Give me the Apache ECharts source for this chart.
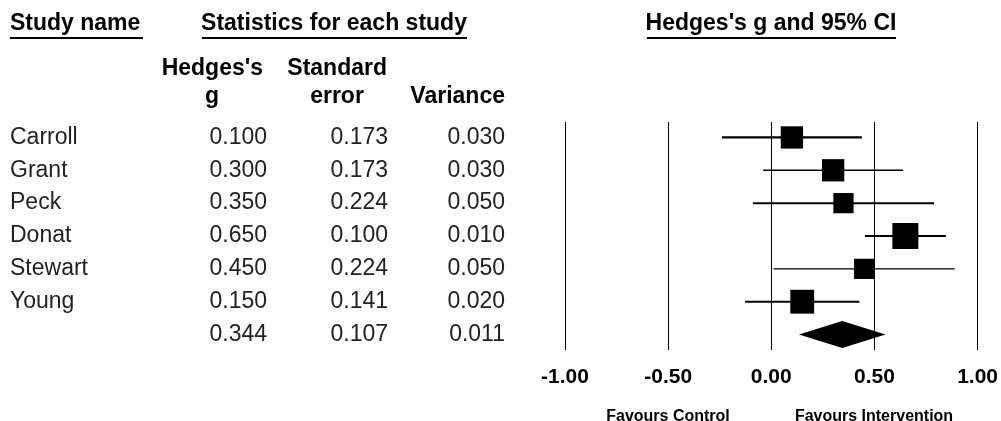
<!DOCTYPE html>
<html>
<head>
<meta charset="utf-8">
<script src="https://cdn.jsdelivr.net/npm/echarts@6/dist/echarts.min.js"></script>
<style>
html,body{margin:0;padding:0;background:#fff;}
#main{width:1001px;height:421px;}
</style>
</head>
<body>
<div id="main"></div>
<script>
// ---- data ----
const studies   = ['Carroll', 'Grant', 'Peck', 'Donat', 'Stewart', 'Young'];
const hedgesG   = [0.100, 0.300, 0.350, 0.650, 0.450, 0.150];
const stdErr    = [0.173, 0.173, 0.224, 0.100, 0.224, 0.141];
const variances = [0.030, 0.030, 0.050, 0.010, 0.050, 0.020];
const lowerCI   = [-0.239, -0.039, -0.089, 0.454, 0.011, -0.127];
const upperCI   = [0.439, 0.639, 0.789, 0.846, 0.889, 0.427];
const summaryStats = [0.344, 0.107, 0.011];   // g, SE, variance
const summaryCI    = [0.134, 0.554];
const xTicks = [-1.00, -0.50, 0.00, 0.50, 1.00];

// ---- styles / layout ----
const FONT = 'Liberation Sans';
const ciLineWidth = [2.3, 1.4, 2, 2, 1.4, 2];
const TAU2 = 0.04;
const colRight = [267, 388, 505];
const nameLeft = 10;
const Y_MIN = -0.47, Y_MAX = 6.47;

const forestData = studies.map((s, i) => [lowerCI[i], upperCI[i], hedgesG[i], i, variances[i], ciLineWidth[i]]);
const summaryRow = studies.length;
const tableData = studies.map((s, i) => [0, i]).concat([[0, summaryRow]]);

function txt(x, y, text, align, opts) {
  opts = opts || {};
  return {
    type: 'text', x: x, y: y,
    style: {
      text: text,
      fontFamily: FONT,
      fontSize: opts.size || 23,
      fontWeight: opts.weight || 'normal',
      fill: opts.color || '#000',
      align: align, textAlign: align,
      verticalAlign: opts.va || 'middle', textVerticalAlign: opts.va || 'middle'
    }
  };
}

const chart = echarts.init(document.getElementById('main'));
const option = {
  animation: false,
  backgroundColor: '#fff',
  textStyle: { fontFamily: FONT },
  grid: [
    { left: 565, right: 23, top: 122, bottom: 71 },
    { left: 0, width: 520, top: 122, bottom: 71 }
  ],
  xAxis: [
    {
      gridIndex: 0, type: 'value', min: -1, max: 1, interval: 0.5,
      axisLine: { show: false }, axisTick: { show: false },
      splitLine: { show: true, lineStyle: { color: '#000', width: 1 } },
      axisLabel: {
        formatter: v => v.toFixed(2), fontSize: 21, fontWeight: 'bold',
        color: '#000', margin: 17, fontFamily: FONT
      }
    },
    { gridIndex: 1, type: 'value', min: 0, max: 520, show: false }
  ],
  yAxis: [
    { gridIndex: 0, type: 'value', min: Y_MIN, max: Y_MAX, inverse: true, show: false },
    { gridIndex: 1, type: 'value', min: Y_MIN, max: Y_MAX, inverse: true, show: false }
  ],
  series: [
    {
      type: 'custom', xAxisIndex: 0, yAxisIndex: 0,
      data: forestData,
      encode: { x: [0, 1, 2], y: 3 },
      renderItem: function (params, api) {
        const lo = api.value(0), hi = api.value(1), g = api.value(2), row = api.value(3);
        const v = api.value(4), lw = api.value(5);
        const p1 = api.coord([lo, row]), p2 = api.coord([hi, row]), c = api.coord([g, row]);
        const s = 13 + 0.65 / (v + TAU2);
        return {
          type: 'group',
          children: [
            { type: 'line', shape: { x1: p1[0], y1: p1[1], x2: p2[0], y2: p2[1] },
              style: { stroke: '#000', lineWidth: lw } },
            { type: 'rect', shape: { x: c[0] - s / 2, y: c[1] - s / 2, width: s, height: s },
              style: { fill: '#000' } }
          ]
        };
      }
    },
    {
      type: 'custom', xAxisIndex: 0, yAxisIndex: 0,
      data: [[summaryCI[0], summaryCI[1], summaryStats[0], summaryRow]],
      encode: { x: [0, 1, 2], y: 3 },
      renderItem: function (params, api) {
        const row = api.value(3);
        const l = api.coord([api.value(0), row]);
        const r = api.coord([api.value(1), row]);
        const c = api.coord([api.value(2), row]);
        const h = 13.5;
        return {
          type: 'polygon',
          shape: { points: [[l[0], l[1]], [c[0], c[1] - h], [r[0], r[1]], [c[0], c[1] + h]] },
          style: { fill: '#000' }
        };
      }
    },
    {
      type: 'custom', xAxisIndex: 1, yAxisIndex: 1,
      data: tableData,
      encode: { x: 0, y: 1 },
      renderItem: function (params, api) {
        const row = api.value(1);
        const i = params.dataIndex;
        const isSum = row === summaryRow;
        const vals = isSum ? summaryStats : [hedgesG[i], stdErr[i], variances[i]];
        const children = [];
        if (!isSum) {
          const p = api.coord([nameLeft, row]);
          children.push(txt(p[0], p[1], studies[i], 'left', { color: '#222' }));
        }
        vals.forEach((val, k) => {
          const p = api.coord([colRight[k], row]);
          children.push(txt(p[0], p[1], val.toFixed(3), 'right', { color: '#222' }));
        });
        return { type: 'group', children: children };
      }
    }
  ],
  graphic: [
    txt(10, 24, 'Study name', 'left', { weight: 'bold' }),
    { type: 'line', shape: { x1: 10, y1: 38, x2: 143, y2: 38 }, style: { stroke: '#000', lineWidth: 2 } },
    txt(334, 24, 'Statistics for each study', 'center', { weight: 'bold' }),
    { type: 'line', shape: { x1: 202, y1: 38, x2: 467, y2: 38 }, style: { stroke: '#000', lineWidth: 2 } },
    txt(771, 24, "Hedges's g and 95% CI", 'center', { weight: 'bold' }),
    { type: 'line', shape: { x1: 647, y1: 38, x2: 896, y2: 38 }, style: { stroke: '#000', lineWidth: 2 } },
    txt(263, 69, "Hedges's", 'right', { weight: 'bold' }),
    txt(212, 97, 'g', 'center', { weight: 'bold' }),
    txt(387, 69, 'Standard', 'right', { weight: 'bold' }),
    txt(337, 97, 'error', 'center', { weight: 'bold' }),
    txt(505, 97, 'Variance', 'right', { weight: 'bold' }),
    txt(668, 417, 'Favours Control', 'center', { weight: 'bold', size: 16 }),
    txt(874, 417, 'Favours Intervention', 'center', { weight: 'bold', size: 16 })
  ]
};
chart.setOption(option);
</script>
</body>
</html>
